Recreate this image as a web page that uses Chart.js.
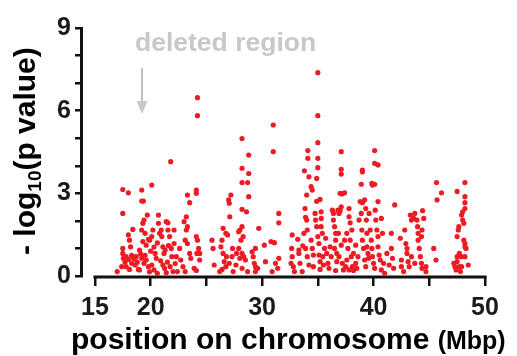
<!DOCTYPE html>
<html>
<head>
<meta charset="utf-8">
<script src="https://cdn.jsdelivr.net/npm/chart.js@4"></script>
<style>
  html, body { margin: 0; padding: 0; background: #fff; }
  #wrap { width: 517px; height: 356px; }
</style>
</head>
<body>
<div id="wrap"><canvas id="chartCanvas" width="517" height="356"></canvas></div>
<script>
// positions (Mbp) and -log10(p), one entry per SNP
const positionMbp = [
  // 17 - 20
  17.0, 17.5, 17.5, 17.55, 17.4, 17.8, 18.0, 18.1, 18.4, 18.2, 18.4, 18.3, 18.7, 18.6, 17.8, 18.1, 18.9, 19.0, 19.2, 19.3,
  19.4, 19.5, 19.3, 19.6, 19.8, 19.2, 19.4, 19.6, 19.8, 19.0, 18.0, 18.3, 18.5, 17.7, 18.8, 19.1, 19.5,
  // 20 - 23
  19.7, 19.9, 20.1, 20.2, 20.4, 20.5, 20.1, 20.3, 20.7, 20.7, 20.8, 20.95, 21.0, 21.1, 21.2, 21.1, 21.25, 21.4, 21.55, 21.55,
  21.7, 21.3, 21.85, 21.9, 21.75, 22.0, 22.1, 22.1, 22.3, 22.6, 22.7, 22.9, 22.4, 20.0, 20.3, 20.6, 20.9, 21.5, 21.6, 22.2,
  19.9, 20.6, 21.4,
  // 23 - 24.5
  23.0, 23.2, 23.3, 23.1, 23.3, 23.5, 23.6, 23.1, 24.1, 24.2, 24.3, 24.15, 24.4, 24.4, 23.9, 24.1,
  // 25.5 - 30
  25.5, 25.6, 25.7, 26.3, 26.4, 26.5, 26.5, 26.6, 26.4, 26.2, 26.75, 26.9, 27.0, 27.05, 27.2, 27.1, 26.8, 26.75, 27.05, 27.3,
  27.35, 27.4, 27.65, 27.7, 27.9, 27.9, 28.0, 28.1, 28.2, 28.3, 28.2, 28.0, 28.35, 28.5, 28.2, 28.7, 29.1, 29.2, 29.3, 29.4,
  29.4, 29.6, 29.7, 29.4,
  // 30 - 32
  30.2, 30.3, 30.8, 31.1, 30.9, 31.2, 31.5, 31.5, 31.5, 31.4,
  // 32.5 - 35.5
  32.7, 32.65, 32.7, 32.6, 32.8, 32.9, 33.2, 33.3, 33.3, 33.4, 33.6, 33.65, 33.75, 33.85, 33.9, 34.0, 34.05, 33.9, 34.05, 34.2,
  34.4, 34.5, 34.6, 34.6, 34.75, 34.8, 34.9, 35.0, 35.1, 35.1, 35.2, 35.2, 35.3, 35.3, 35.3, 35.4, 35.45, 35.5,
  // 35.5 - 38
  35.6, 35.7, 35.8, 35.9, 36.0, 36.1, 36.2, 36.3, 36.4, 36.4, 36.5, 36.6, 36.6, 36.5, 36.7, 36.7, 36.6, 36.8, 36.9, 37.0,
  37.1, 36.85, 36.9, 37.1, 37.2, 37.3, 37.4, 37.6, 37.7, 37.8, 37.8, 37.9, 37.9, 38.0, 37.6, 37.5, 37.8, 38.05, 38.1, 38.2,
  // 38 - 41
  38.2, 38.4, 38.4, 38.5, 38.6, 38.7, 38.8, 38.9, 38.95, 39.0, 39.1, 39.2, 39.3, 39.3, 39.35, 39.4, 39.4, 39.5, 39.55, 39.6,
  39.7, 39.8, 39.85, 39.9, 40.0, 40.1, 40.15, 40.2, 40.3, 40.4, 40.4, 40.5, 40.6, 40.7, 40.7, 40.8, 40.9, 41.0,
  // 41 - 45
  41.2, 41.4, 41.6, 41.6, 41.7, 41.8, 42.4, 42.5, 42.5, 42.7, 42.8, 42.9, 43.0, 43.0, 43.1, 43.2, 43.3, 43.4, 43.4, 43.6,
  43.7, 43.7, 43.9, 43.95, 44.0, 44.0, 44.1, 44.2, 44.3, 44.35, 44.4, 44.5, 44.35, 44.3, 44.7, 44.7,
  // 45 - 49
  45.4, 45.6, 47.2, 47.3, 47.4, 47.5, 47.5, 47.6, 47.5, 47.7, 47.7, 47.8, 47.65, 47.9, 47.9, 48.0, 48.0, 48.1, 48.1, 48.2,
  48.2, 48.3, 48.2, 48.5, 47.9, 48.2,
  // upper points
  35.0, 35.0, 24.2, 24.2, 31.0, 31.0, 28.2, 28.8, 28.2, 28.8, 28.2, 28.7, 28.8, 28.2, 28.6, 21.8, 20.1, 17.5, 18.0, 19.2,
  19.2, 19.35, 17.5, 24.1, 24.1, 23.3, 23.5, 23.2, 35.0, 34.1, 34.1, 35.0, 35.0, 33.8, 34.2, 34.4, 34.5, 34.9, 34.0, 35.2,
  34.9, 37.1, 37.1, 37.1, 37.0, 37.15, 37.4, 40.1, 40.1, 40.4, 39.0, 39.0, 38.9, 39.85, 40.1, 39.9, 39.2, 39.0, 40.4, 41.9,
  45.65, 46.1, 45.7, 47.5, 48.2, 48.2, 48.2
];
const negLog10P = [
  // 17 - 20
  0.16, 1.0, 0.82, 0.64, 0.34, 0.7, 1.49, 1.3, 1.69, 1.06, 0.7, 0.46, 0.7, 0.4, 0.34, 0.24, 0.24, 0.94, 1.67, 1.91,
  2.03, 1.55, 1.25, 1.12, 1.33, 0.64, 0.46, 0.58, 0.34, 0.22, 0.6, 0.75, 0.62, 0.5, 0.5, 0.8, 0.75,
  // 20 - 23
  2.21, 1.3, 1.43, 1.67, 0.82, 0.64, 0.4, 0.22, 2.21, 1.91, 1.55, 1.67, 1.43, 1.06, 0.82, 0.4, 0.28, 1.97, 1.93, 1.67,
  1.43, 0.94, 1.0, 0.7, 0.34, 0.16, 1.67, 1.18, 0.7, 1.0, 0.58, 0.34, 0.16, 0.9, 1.05, 1.2, 0.55, 0.5, 1.1, 0.45,
  0.15, 0.1, 0.12,
  // 23 - 24.5
  1.97, 1.67, 1.79, 1.3, 1.18, 0.82, 0.64, 0.16, 1.43, 1.3, 1.0, 0.82, 0.82, 0.58, 0.28, 0.2,
  // 25.5 - 30
  1.3, 1.0, 0.4, 1.06, 1.3, 1.73, 0.82, 0.52, 0.24, 0.16, 1.55, 1.49, 2.76, 2.64, 2.94, 2.15, 0.7, 0.34, 0.46, 0.7,
  1.0, 0.16, 0.4, 0.82, 1.0, 1.61, 1.67, 1.3, 1.79, 1.43, 0.82, 0.64, 0.7, 0.58, 0.28, 0.16, 0.88, 0.7, 0.46, 1.0,
  0.34, 0.28, 1.73, 0.16,
  // 30 - 32
  1.12, 0.52, 1.25, 1.21, 0.16, 0.46, 2.27, 1.93, 0.64, 0.28,
  // 32.5 - 35.5
  1.49, 1.0, 0.7, 0.46, 0.34, 0.16, 1.33, 0.94, 0.82, 0.46, 0.16, 1.09, 1.55, 2.45, 2.13, 2.03, 1.67, 1.0, 0.7, 0.4,
  1.3, 1.0, 0.76, 0.34, 2.27, 2.03, 1.79, 1.43, 1.18, 0.76, 0.52, 0.24, 2.33, 2.09, 1.79, 1.55, 0.7, 0.4,
  // 35.5 - 38
  1.0, 1.37, 0.82, 0.46, 0.28, 1.06, 0.7, 2.39, 2.27, 2.03, 1.79, 1.55, 1.3, 1.0, 0.82, 0.52, 0.2, 2.39, 2.27, 2.37,
  2.51, 1.55, 0.7, 1.12, 0.46, 0.22, 1.3, 1.55, 1.0, 2.45, 2.15, 1.93, 1.3, 0.7, 0.58, 0.34, 0.22, 1.67, 0.34, 0.2,
  // 38 - 41
  0.82, 1.12, 0.46, 0.28, 0.7, 2.03, 2.7, 2.27, 1.67, 1.3, 1.0, 0.58, 0.34, 2.45, 2.03, 1.55, 1.06, 0.82, 0.64, 2.27,
  1.67, 1.3, 1.0, 0.7, 0.46, 0.28, 2.39, 2.03, 1.67, 1.43, 1.06, 0.76, 0.58, 0.22, 2.09, 1.55, 0.46, 0.1,
  // 41 - 45
  0.82, 0.4, 1.55, 1.0, 0.64, 0.28, 1.37, 0.58, 0.34, 0.16, 1.67, 1.18, 1.0, 0.82, 0.52, 0.34, 2.21, 2.03, 0.7, 2.09,
  2.27, 0.46, 2.03, 1.79, 1.55, 1.3, 1.0, 0.7, 0.46, 0.28, 2.37, 2.09, 1.67, 1.43, 0.34, 0.16,
  // 45 - 49
  1.0, 0.58, 0.46, 0.34, 0.22, 0.52, 1.43, 1.67, 0.7, 0.82, 0.34, 0.16, 1.79, 0.7, 2.21, 2.33, 2.03, 1.91, 1.3, 1.06,
  1.18, 1.0, 0.7, 0.4, 0.34, 2.45,
  // upper points
  7.38, 5.82, 6.47, 5.82, 5.48, 4.51, 4.99, 4.39, 3.91, 3.72, 3.39, 3.39, 2.88, 2.42, 2.33, 4.15, 3.30, 3.14, 3.02, 3.12,
  2.72, 2.72, 2.27, 3.12, 3.0, 2.94, 2.66, 2.15, 4.84, 4.55, 4.27, 4.27, 3.93, 3.82, 3.6, 3.24, 3.12, 3.54, 2.94, 2.78,
  2.71, 4.51, 3.87, 3.70, 3.0, 2.98, 3.02, 4.55, 4.09, 4.03, 3.78, 3.84, 3.33, 3.36, 3.33, 3.30, 2.76, 2.66, 2.70, 2.58,
  3.39, 3.02, 2.76, 3.07, 3.39, 2.88, 2.66
];

const xTickValues = [15, 20, 25, 30, 35, 40, 45, 50];
const xTickLabels = ['15', '20', '', '30', '', '40', '', '50'];
const yTickValues = [0, 1, 2, 3, 4, 5, 6, 7, 8, 9];
const yTickLabels = ['0', '', '', '3', '', '', '6', '', '', '9'];

const FONT = '"Liberation Sans", Arial, sans-serif';

// axis line under the x ticks, titles and the grey note
const overlay = {
  id: 'overlay',
  beforeDatasetsDraw(chart) {
    const { ctx, scales: { x, y } } = chart;
    ctx.save();
    ctx.strokeStyle = '#111';
    ctx.lineWidth = 3;
    ctx.beginPath();
    ctx.moveTo(x.getPixelForValue(15) - 1.5, y.bottom + 1);
    ctx.lineTo(x.getPixelForValue(50) + 1.5, y.bottom + 1);
    ctx.stroke();
    ctx.restore();
  },
  afterDraw(chart) {
    const ctx = chart.ctx;
    ctx.save();
    ctx.fillStyle = '#000';
    ctx.textBaseline = 'alphabetic';

    // x title
    ctx.font = 'bold 30px ' + FONT;
    const main = 'position on chromosome ';
    ctx.fillText(main, 71, 349);
    const w = ctx.measureText(main).width;
    ctx.font = 'bold 25px ' + FONT;
    ctx.fillText('(Mbp)', 71 + w, 349);

    // y title, rotated
    ctx.translate(35, 255);
    ctx.rotate(-Math.PI / 2);
    let cx = 0;
    ctx.font = 'bold 30px ' + FONT;
    ctx.fillText('- log', cx, 0);
    cx += ctx.measureText('- log').width;
    ctx.font = 'bold 19px ' + FONT;
    ctx.fillText('10', cx, 6);
    cx += ctx.measureText('10').width;
    ctx.font = 'bold 30px ' + FONT;
    ctx.fillText('(p value)', cx, 0);
    ctx.restore();

    // deleted region note
    ctx.save();
    ctx.fillStyle = '#c8c8c8';
    ctx.strokeStyle = '#c0c0c0';
    ctx.font = 'bold 26.5px ' + FONT;
    ctx.fillText('deleted region', 135, 51);
    ctx.lineWidth = 2;
    ctx.beginPath();
    ctx.moveTo(142, 68);
    ctx.lineTo(142, 102);
    ctx.stroke();
    ctx.beginPath();
    ctx.moveTo(136.5, 101);
    ctx.lineTo(147.5, 101);
    ctx.lineTo(142, 114);
    ctx.closePath();
    ctx.fill();
    ctx.restore();
  }
};

const ctx = document.getElementById('chartCanvas').getContext('2d');
new Chart(ctx, {
  type: 'scatter',
  data: {
    datasets: [{
      data: positionMbp.map((p, i) => ({ x: p, y: negLog10P[i] })),
      backgroundColor: 'rgb(237, 28, 36)',
      borderWidth: 0,
      pointRadius: 2.6,
      pointHoverRadius: 2.6
    }]
  },
  options: {
    responsive: false,
    animation: false,
    events: [],
    layout: { padding: { top: 28, right: 32, left: 0, bottom: 0 } },
    plugins: { legend: { display: false }, tooltip: { enabled: false } },
    scales: {
      x: {
        type: 'linear',
        min: 13.75,
        max: 50,
        afterBuildTicks: (scale) => { scale.ticks = xTickValues.map(v => ({ value: v })); },
        afterFit: (scale) => { scale.height = 80; },
        border: { display: false },
        grid: { drawOnChartArea: false, drawTicks: true, tickLength: 10, lineWidth: 2.5, color: '#111' },
        ticks: {
          autoSkip: false,
          maxRotation: 0,
          padding: 7,
          color: '#1a1a1a',
          font: { family: FONT, size: 25, weight: 'bold' },
          callback: (v) => xTickLabels[xTickValues.indexOf(v)] ?? ''
        }
      },
      y: {
        min: 0,
        max: 9,
        afterBuildTicks: (scale) => { scale.ticks = yTickValues.map(v => ({ value: v })); },
        afterFit: (scale) => { scale.width = 81; },
        border: { display: true, width: 3, color: '#111' },
        grid: { drawOnChartArea: false, drawTicks: true, tickLength: 6, lineWidth: 2.5, color: '#111' },
        ticks: {
          autoSkip: false,
          padding: 4,
          color: '#1a1a1a',
          font: { family: FONT, size: 25, weight: 'bold' },
          callback: (v) => yTickLabels[yTickValues.indexOf(v)] ?? ''
        }
      }
    }
  },
  plugins: [overlay]
});
</script>
</body>
</html>
